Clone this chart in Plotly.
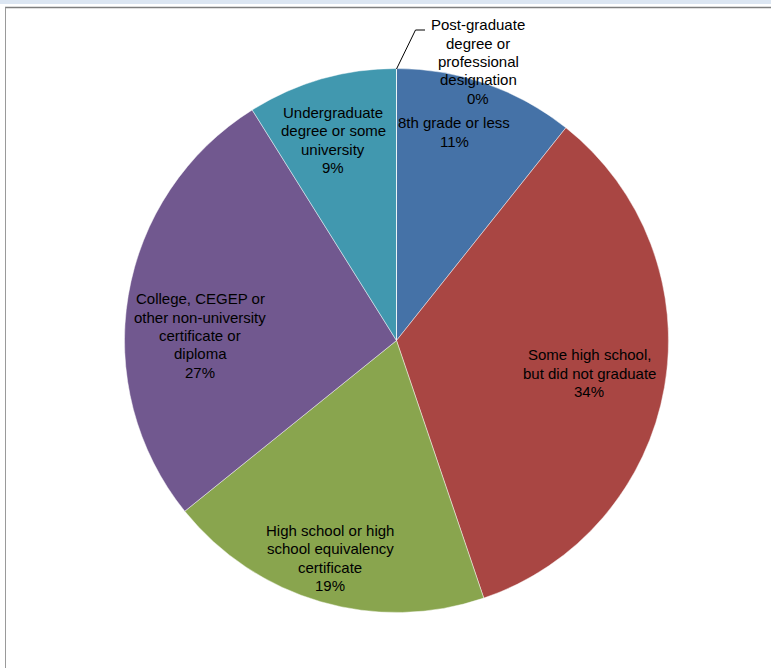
import plotly.graph_objects as go

categories = [
    "8th grade or less",
    "Some high school,<br>but did not graduate",
    "High school or high<br>school equivalency<br>certificate",
    "College, CEGEP or<br>other non-university<br>certificate or<br>diploma",
    "Undergraduate<br>degree or some<br>university",
    "Post-graduate<br>degree or<br>professional<br>designation",
]
values = [10.7, 34.1, 19.4, 26.9, 8.9, 0.0]
colors = ["#4572A7", "#A94643", "#89A54E", "#71588F", "#4198AF", "#DB843D"]

W, H = 771, 668
cx, cy, R = 396.5, 340.5, 272

fig = go.Figure(go.Pie(
    labels=[c.replace("<br>", " ") for c in categories],
    values=values,
    sort=False,
    direction="clockwise",
    rotation=0,
    textinfo="none",
    hoverinfo="skip",
    showlegend=False,
    marker=dict(colors=colors, line=dict(color="rgba(255,255,255,0.45)", width=1)),
    domain=dict(x=[(cx - R) / W, (cx + R) / W], y=[(H - cy - R) / H, (H - cy + R) / H]),
))

total = sum(values)
# label centres in pixels (layout)
label_pos = [(454, 132), (589, 373), (330, 558), (200, 335.5), (333, 140), (478, 61.5)]
LINE_H = 18.3
annotations = []
for cat, v, (px, py) in zip(categories, values, label_pos):
    lines = cat.split("<br>") + [f"{round(v / total * 100)}%"]
    n = len(lines)
    for i, ln in enumerate(lines):
        ly = py + (i - (n - 1) / 2) * LINE_H
        annotations.append(dict(
            x=px / W, y=1 - ly / H, xref="paper", yref="paper",
            text=ln, showarrow=False, xanchor="center", yanchor="middle",
            font=dict(family="Liberation Sans, Arial, sans-serif", size=15, color="#000000"),
        ))

def P(px, py):
    return f"{px / W},{1 - py / H}"

shapes = [
    dict(type="rect", xref="paper", yref="paper", x0=0, x1=1, y0=1 - 4 / H, y1=1,
         fillcolor="#DCE6F2", line=dict(width=0), layer="below"),
    dict(type="line", xref="paper", yref="paper", x0=5 / W, x1=1, y0=1 - 7.5 / H, y1=1 - 7.5 / H,
         line=dict(color="#7f7f7f", width=1.5)),
    dict(type="line", xref="paper", yref="paper", x0=5.5 / W, x1=5.5 / W, y0=0, y1=1 - 7.5 / H,
         line=dict(color="#9a9a9a", width=1)),
    dict(type="path", xref="paper", yref="paper",
         path=f"M {P(396.5, 69)} L {P(415.5, 30)} L {P(425, 30)}",
         line=dict(color="#000000", width=1)),
]

fig.update_layout(
    width=W, height=H,
    margin=dict(l=0, r=0, t=0, b=0),
    paper_bgcolor="white",
    plot_bgcolor="white",
    annotations=annotations,
    shapes=shapes,
    hovermode=False,
)

fig.write_html("out.html", config={"displayModeBar": False},
               post_script="document.body.style.margin='0';")
